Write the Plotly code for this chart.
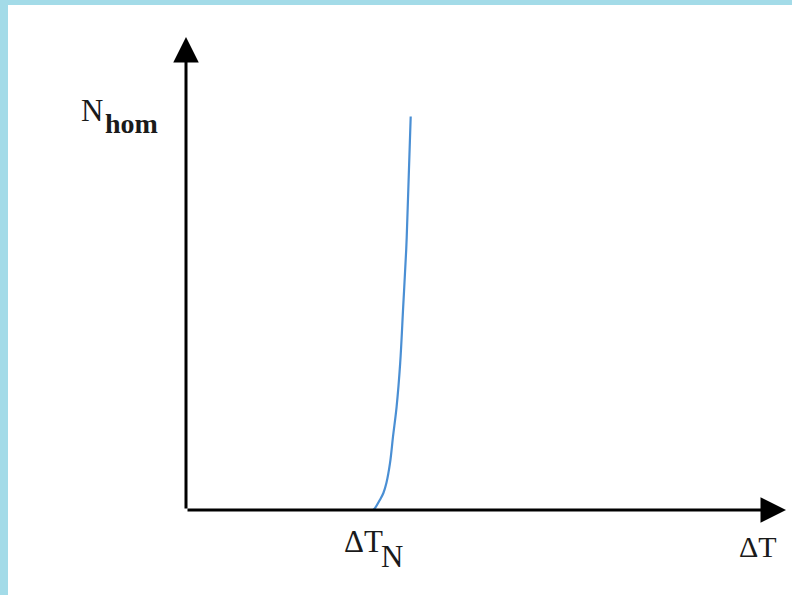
import plotly.graph_objects as go

# Schematic data (arbitrary units, axis from 0 to 100)
delta_t = [31.2, 31.5, 32.3, 32.9, 33.4, 34.0, 34.5, 35.1, 35.7, 36.2, 36.7, 37.05, 37.45]
n_hom = [0.0, 0.4, 2.1, 3.6, 5.7, 9.9, 15.5, 21.8, 31.1, 43.0, 55.0, 67.7, 83.2]
x_label = "ΔT"
y_label_main = "N"
y_label_sub = "hom"
tick_label_main = "ΔT"
tick_label_sub = "N"

W, H = 792, 595
L, R, T, B = 186, 6, 37, 85
XMAX, YMAX = 100, 100
pw, ph = W - L - R, H - T - B


def ppx(xp, yp):
    return (xp - L) / pw, (H - B - yp) / ph


fig = go.Figure()
fig.add_trace(go.Scatter(x=delta_t, y=n_hom, mode="lines",
                         line=dict(color="#4a8fd4", width=2.2, shape="spline"),
                         cliponaxis=False, hoverinfo="skip", showlegend=False))

font = dict(family="Liberation Serif, Times New Roman, serif", size=28, color="#1a1a1a")
ann = []
# axes arrows
ann.append(dict(x=0, y=YMAX, ax=0, ay=0, xref="x", yref="y", axref="x", ayref="y",
                showarrow=True, arrowhead=2, arrowsize=1.7, arrowwidth=3, arrowcolor="black",
                text=""))
ann.append(dict(x=XMAX, y=0, ax=0, ay=0, xref="x", yref="y", axref="x", ayref="y",
                showarrow=True, arrowhead=2, arrowsize=1.7, arrowwidth=3, arrowcolor="black",
                text=""))


def label(text, xp, yp, bold=False, size=28):
    x, y = ppx(xp, yp)
    f = dict(font)
    f["size"] = size
    if bold:
        text = "<b>" + text + "</b>"
    ann.append(dict(x=x, y=y, xref="paper", yref="paper", text=text, showarrow=False,
                    xanchor="left", yanchor="bottom", font=f))


# label positions (left, bottom in pixels)
label(y_label_main, 79, 130, size=31)
label(y_label_sub, 103, 141, bold=True, size=28)
label(tick_label_main, 342, 561, size=31)
label(tick_label_sub, 379, 576, size=31)
label(x_label, 737, 565, size=30)

fig.update_layout(
    width=W, height=H, autosize=False,
    margin=dict(l=L, r=R, t=T, b=B, pad=0),
    paper_bgcolor="white", plot_bgcolor="white",
    xaxis=dict(range=[0, XMAX], visible=False, fixedrange=True),
    yaxis=dict(range=[0, YMAX], visible=False, fixedrange=True),
    annotations=ann,
    shapes=[
        dict(type="rect", xref="paper", yref="paper", layer="below",
             x0=-L / pw, x1=(8 - L) / pw, y0=-B / ph, y1=1 + T / ph,
             fillcolor="#a3dbe8", line=dict(width=0)),
        dict(type="rect", xref="paper", yref="paper", layer="below",
             x0=-L / pw, x1=1 + R / pw, y0=(H - B - 5) / ph, y1=1 + T / ph,
             fillcolor="#a3dbe8", line=dict(width=0)),
    ],
)
fig.write_html("out.html", config={"displayModeBar": False},
               post_script="document.body.style.margin='0';document.body.style.overflow='hidden';")
